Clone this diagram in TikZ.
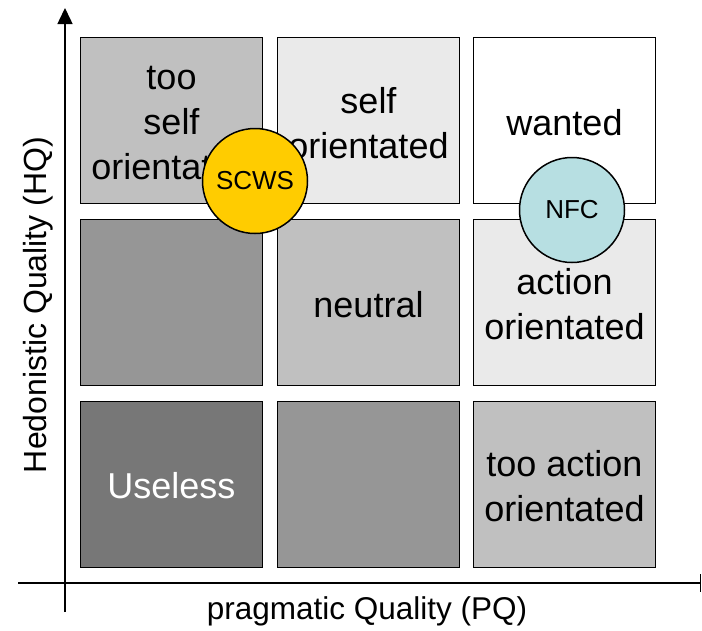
\documentclass[tikz,border=0pt]{standalone}
\usepackage{fontspec}
\setmainfont{Liberation Sans}
\usetikzlibrary{arrows.meta}
\definecolor{shadeA}{HTML}{EAEAEA}
\definecolor{shadeB}{HTML}{C0C0C0}
\definecolor{shadeC}{HTML}{969696}
\definecolor{shadeD}{HTML}{777777}
\definecolor{scwsfill}{HTML}{FFCC00}
\definecolor{nfcfill}{HTML}{B7DFE2}
\begin{document}
\begin{tikzpicture}[x=1pt,y=-1pt,
  cell/.style={draw=black,line width=1.5pt,minimum width=182pt,minimum height=166pt,inner sep=0pt},
  celltext/.style={align=center,inner sep=0pt,font=\fontsize{36}{45}\selectfont},
  axis/.style={line width=1.5pt},
  axislabel/.style={font=\fontsize{32}{36}\selectfont},
  marker/.style={circle,draw=black,line width=1.5pt,minimum size=105pt,inner sep=0pt,
    font=\fontsize{26}{30}\selectfont}]
\useasboundingbox (0,0) rectangle (702,630);
% axes
\coordinate (yb) at (65,612);
\coordinate (yt) at (65,8);
\coordinate (xl) at (18,583);
\coordinate (xr) at (701,583);
\draw[axis,-{Triangle[length=16pt,width=15pt]}] (yb) -- (yt);
\draw[axis,-{Bar[width=18pt,line width=1.5pt]}] (xl) -- (xr);
\node[axislabel,font=\fontsize{31.5}{36}\selectfont] (pq) at (367,611) {pragmatic Quality (PQ)};
\node[axislabel,rotate=90] (hq) at (38,305) {Hedonistic Quality (HQ)};
% grid of quality regions
\node[cell,fill=shadeB] (c11) at (171.5,120.5) {};
\node[cell,fill=shadeA] (c12) at (368.5,120.5) {};
\node[cell,fill=white]  (c13) at (564.5,120.5) {};
\node[cell,fill=shadeC] (c21) at (171.5,302.5) {};
\node[cell,fill=shadeB] (c22) at (368.5,302.5) {};
\node[cell,fill=shadeA] (c23) at (564.5,302.5) {};
\node[cell,fill=shadeD] (c31) at (171.5,484.5) {};
\node[cell,fill=shadeC] (c32) at (368.5,484.5) {};
\node[cell,fill=shadeB] (c33) at (564.5,484.5) {};
% region names
\node[celltext] (t11) at ([yshift=-2.5pt]c11.center) {too\\self\\orientated};
\node[celltext] (t12) at ([yshift=-2.5pt]c12.center) {self\\orientated};
\node[celltext] (t13) at ([yshift=-2.5pt]c13.center) {wanted};
\node[celltext] (t22) at ([yshift=-2pt]c22.center) {neutral};
\node[celltext] (t23) at ([yshift=-2pt]c23.center) {action\\orientated};
\node[celltext,text=white] (t31) at ([yshift=-1.5pt]c31.center) {Useless};
\node[celltext] (t33) at ([yshift=-1.5pt]c33.center) {too action\\orientated};
% product markers
\node[marker,fill=scwsfill] (scws) at (255,181) {SCWS};
\node[marker,fill=nfcfill] (nfc) at (572,210) {NFC};
\end{tikzpicture}
\end{document}
